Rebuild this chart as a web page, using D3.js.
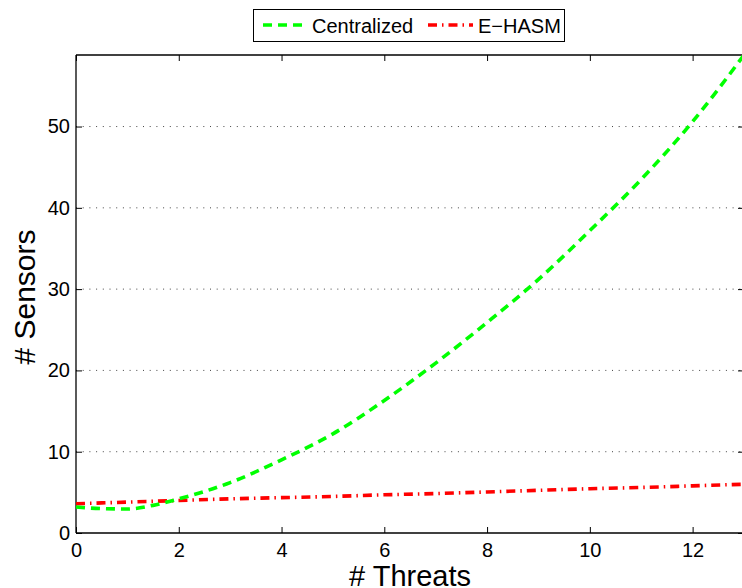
<!DOCTYPE html>
<html>
<head>
<meta charset="utf-8">
<script src="https://cdn.jsdelivr.net/npm/d3@7"></script>
<style>
  html, body { margin: 0; padding: 0; background: #fff; }
  svg { display: block; font-family: "Liberation Sans", Arial, Helvetica, sans-serif; }
</style>
</head>
<body>
<svg id="chart" width="742" height="588"></svg>
<script>
// Number of threats (x) and resulting sensor counts per approach
const threats = [0, 0.5, 1, 1.5, 2, 3, 4, 5, 6, 7, 8, 9, 10, 11, 12, 13];
const centralized = [3.2, 3.0, 2.95, 3.4, 4.2, 6.2, 9.0, 12.2, 16.3, 20.9, 25.9, 31.2, 37.2, 43.5, 50.6, 58.8];
const ehasm = [3.6, 3.7, 3.8, 3.9, 4.0, 4.2, 4.35, 4.5, 4.7, 4.85, 5.05, 5.25, 5.45, 5.6, 5.8, 6.0];
const seriesNames = ["Centralized", "E\u2212HASM"];
const xTicks = [0, 2, 4, 6, 8, 10, 12];
const yTicks = [0, 10, 20, 30, 40, 50];

const svg = d3.select("#chart");
const L = 76, R = 744, T = 55, B = 533;

const x = d3.scaleLinear().domain([0, 13]).range([L, R]);
const y = d3.scaleLinear().domain([0, d3.max(centralized)]).range([B, T]);

// Dotted horizontal grid lines (none at zero)
svg.append("g").selectAll("line")
  .data(yTicks.filter(d => d > 0))
  .join("line")
  .attr("x1", L).attr("x2", R)
  .attr("y1", d => y(d)).attr("y2", d => y(d))
  .attr("stroke", "#444").attr("stroke-width", 1)
  .attr("stroke-dasharray", "1,5.7");

// Axes with inward ticks on all four sides
const tickLen = 6;
const bottomAx = svg.append("g").attr("transform", `translate(0,${B})`)
  .call(d3.axisBottom(x).tickValues(xTicks).tickSize(-tickLen).tickPadding(10).tickFormat(d3.format("d")));
const leftAx = svg.append("g").attr("transform", `translate(${L},0)`)
  .call(d3.axisLeft(y).tickValues(yTicks).tickSize(-tickLen).tickPadding(6).tickFormat(d3.format("d")));
const topAx = svg.append("g").attr("transform", `translate(0,${T})`)
  .call(d3.axisTop(x).tickValues(xTicks).tickSize(-tickLen).tickFormat(""));
const rightAx = svg.append("g").attr("transform", `translate(${R},0)`)
  .call(d3.axisRight(y).tickValues(yTicks).tickSize(-tickLen).tickFormat(""));

[bottomAx, leftAx, topAx, rightAx].forEach(g => {
  g.select(".domain").attr("stroke", "#000").attr("stroke-width", 1.3);
  g.selectAll(".tick line").attr("stroke", "#000").attr("stroke-width", 1);
  g.selectAll("text").attr("fill", "#000").attr("font-size", 20)
    .attr("font-family", "Liberation Sans, Arial, sans-serif");
});
bottomAx.selectAll(".domain").attr("d", `M${L},0H${R}`);
topAx.selectAll(".domain").attr("d", `M${L},0H${R}`);
leftAx.selectAll(".domain").attr("d", `M0,${B}V${T}`);
rightAx.selectAll(".domain").attr("d", `M0,${B}V${T}`);

// Series lines
const line = d3.line().x((d, i) => x(threats[i])).y(d => y(d)).curve(d3.curveMonotoneX);

svg.append("path").datum(ehasm)
  .attr("d", line).attr("fill", "none")
  .attr("stroke", "#ff0000").attr("stroke-width", 3.6)
  .attr("stroke-dasharray", "9,5,1.5,5");

svg.append("path").datum(centralized)
  .attr("d", line).attr("fill", "none")
  .attr("stroke", "#00ff00").attr("stroke-width", 3.6)
  .attr("stroke-dasharray", "9,6");

// Axis titles
svg.append("text")
  .attr("x", (L + R) / 2).attr("y", 586)
  .attr("text-anchor", "middle").attr("font-size", 29).attr("fill", "#000")
  .text("# Threats");

svg.append("text")
  .attr("transform", `translate(35,297) rotate(-90)`)
  .attr("text-anchor", "middle").attr("font-size", 30).attr("fill", "#000")
  .text("# Sensors");

// Legend
const leg = svg.append("g");
leg.append("rect")
  .attr("x", 253.5).attr("y", 9.5).attr("width", 311).attr("height", 32)
  .attr("fill", "#fff").attr("stroke", "#000").attr("stroke-width", 1);

const legItems = [
  { name: seriesNames[0], color: "#00ff00", dash: "9,6", x0: 263, x1: 308, tx: 312 },
  { name: seriesNames[1], color: "#ff0000", dash: "9,5,1.5,5", x0: 428, x1: 473, tx: 478 }
];
legItems.forEach(it => {
  leg.append("line")
    .attr("x1", it.x0).attr("x2", it.x1).attr("y1", 25).attr("y2", 25)
    .attr("stroke", it.color).attr("stroke-width", 3.6)
    .attr("stroke-dasharray", it.dash);
  leg.append("text")
    .attr("x", it.tx).attr("y", 32.5)
    .attr("font-size", 20).attr("fill", "#000")
    .text(it.name);
});
</script>
</body>
</html>
